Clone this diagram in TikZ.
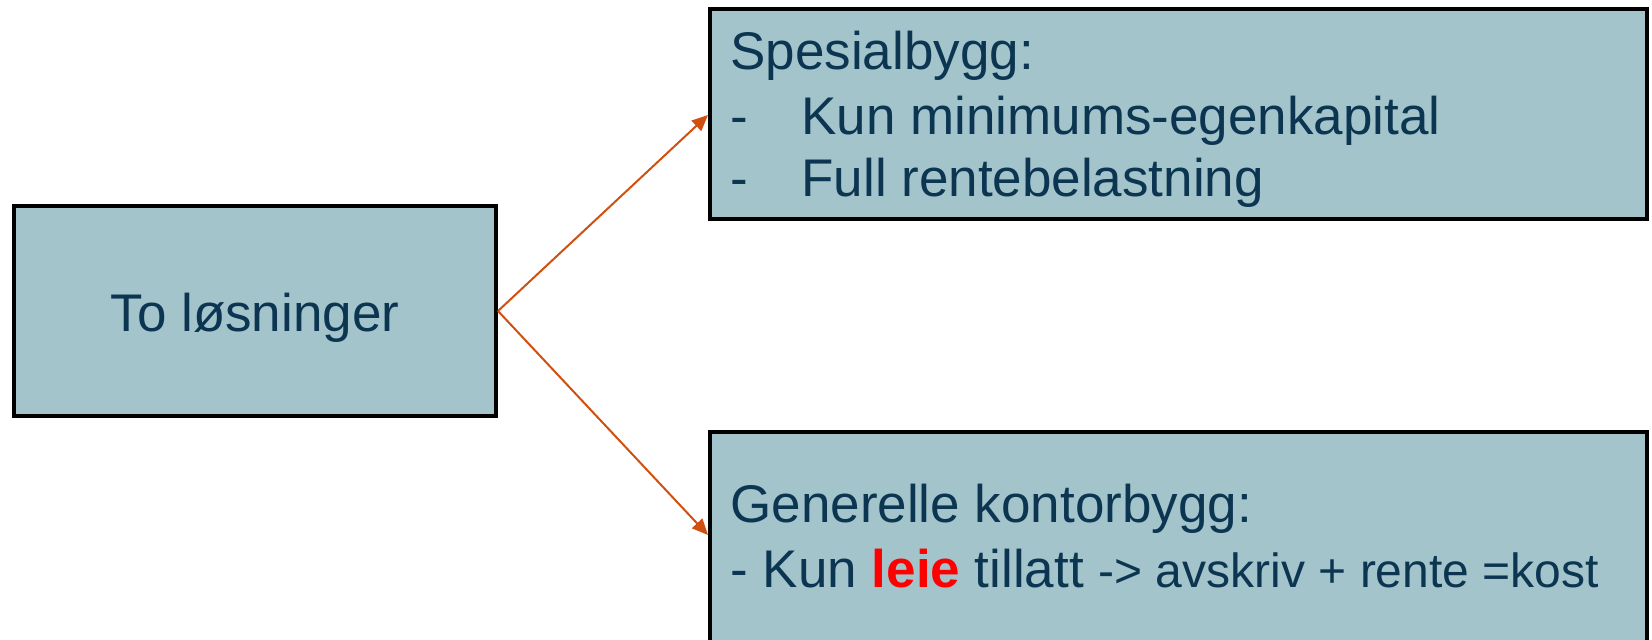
\documentclass[tikz,border=0pt]{standalone}
\usepackage{fontspec}
\setmainfont{Liberation Sans}
\usetikzlibrary{arrows.meta}
\definecolor{boxfill}{HTML}{A3C4CA}
\definecolor{txt}{HTML}{0B3551}
\definecolor{arr}{HTML}{D0500F}
\begin{document}
\begin{tikzpicture}[x=0.5pt,y=-0.5pt,
  box/.style={draw=black, line width=2pt, fill=boxfill, rectangle, inner sep=0pt, line join=miter},
  lbl/.style={text=txt, font=\fontsize{26.5pt}{30pt}\selectfont, inner sep=0pt, anchor=base west},
  conn/.style={draw=arr, line width=1pt, -{Triangle[length=8pt,width=7pt]}}]
\useasboundingbox (0,0) rectangle (1652,640);
\node[box, minimum width=241pt, minimum height=105pt] (L) at (255,311) {};
\node[box, minimum width=468.5pt, minimum height=105pt] (T) at (1178.5,114) {};
\node[box, minimum width=468.5pt, minimum height=134pt] (B) at (1178.5,566) {};
\node[lbl, anchor=base] (Lt) at (255,332) {To løsninger};
\node[lbl] (T1) at (730,70) {Spesialbygg:};
\node[lbl] (T2d) at (730,135) {-};
\node[lbl] (T2) at (801,135) {Kun minimums-egenkapital};
\node[lbl] (T3d) at (730,197) {-};
\node[lbl] (T3) at (801,197) {Full rentebelastning};
\node[lbl] (B1) at (730,522) {Generelle kontorbygg:};
\node[lbl] (B2) at (730,587) {- Kun \textcolor{red}{\textbf{leie}} tillatt {\fontsize{24pt}{28pt}\selectfont -> avskriv + rente =kost}};
\coordinate (ta) at (708,115);
\coordinate (ba) at (708,535);
\draw[conn] (L.east) -- (ta);
\draw[conn] (L.east) -- (ba);
\end{tikzpicture}
\end{document}
